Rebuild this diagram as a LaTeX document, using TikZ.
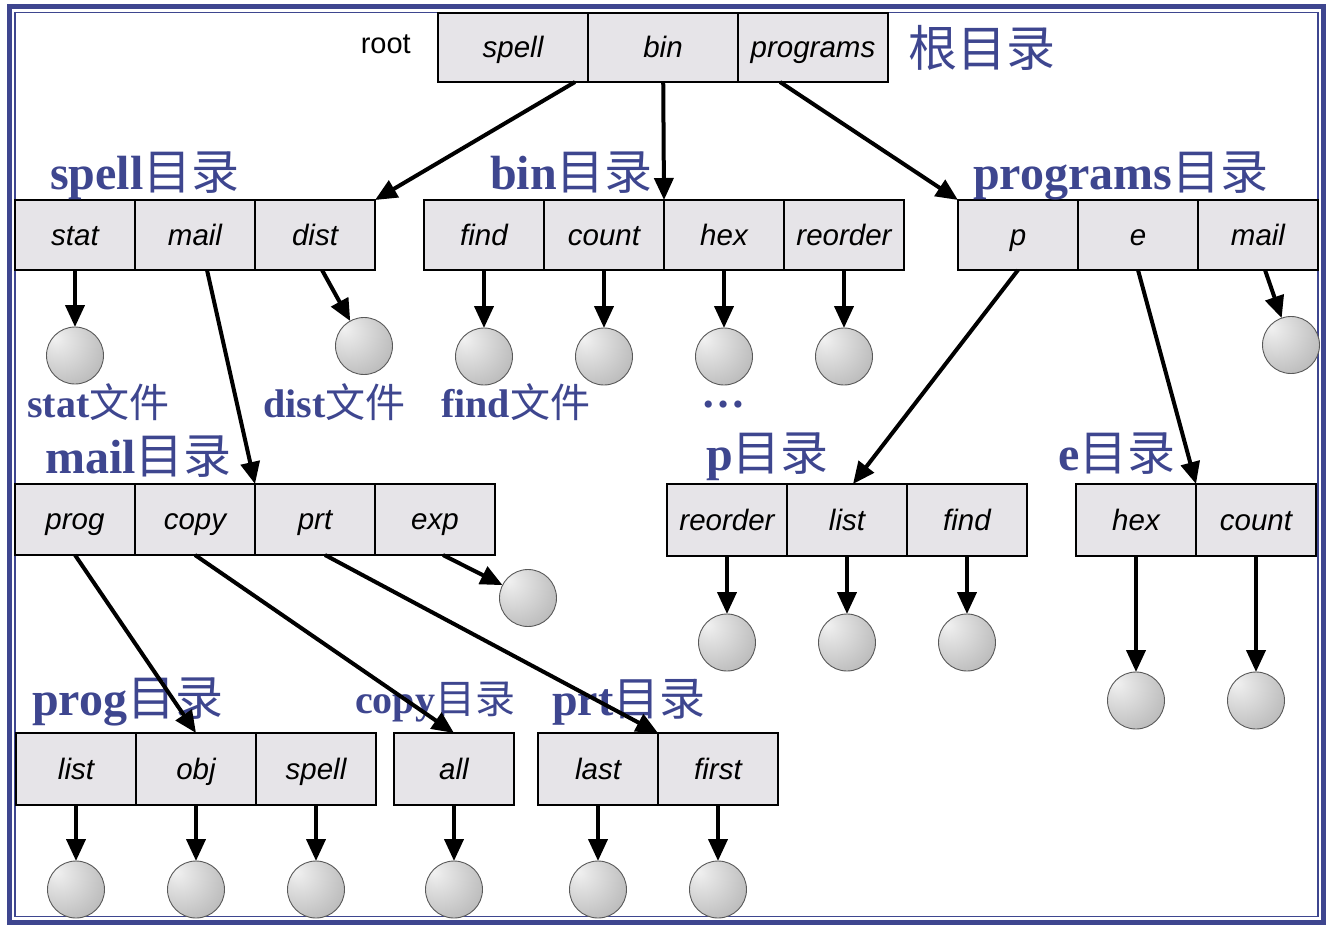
\documentclass[tikz,border=0pt]{standalone}
\usepackage{fontspec}
\setmainfont{Liberation Serif}
\setsansfont{Liberation Sans}
\newfontfamily\cjk{Noto Sans CJK SC}
\usetikzlibrary{arrows.meta,positioning}
\definecolor{navy}{RGB}{62,70,143}
\definecolor{cellgray}{RGB}{230,228,232}
\pgfdeclareradialshading{sphere}{\pgfpoint{-18bp}{16bp}}{%
  color(0bp)=(black!5); color(8bp)=(black!10); color(35bp)=(black!25);
  color(70bp)=(black!48); color(80bp)=(black!48)}
\newcommand\zh[1]{{\cjk\mdseries #1}}
\tikzset{
    %Define standard arrow tip
    >={Triangle[length=22pt,width=19pt]},
    %Define style for directory cells
    cell/.style={
           rectangle,
           draw=black, line width=2.5pt,
           fill=cellgray,
           minimum width=120pt,
           minimum height=70pt,
           text height=26pt, text depth=6pt,
           inner sep=0pt, outer sep=0pt,
           font=\sffamily\itshape\fontsize{29.5}{30}\selectfont},
    rootcell/.style={cell, minimum width=150pt, minimum height=69pt},
    % Define arrow style
    pil/.style={
           ->,
           line width=4pt},
    % Define file ball style
    leaf/.style={circle,draw=black!65,line width=0.9pt,shading=sphere,minimum size=57pt,inner sep=0pt,outer sep=0pt},
    % Define label styles
    title/.style={anchor=base west,inner sep=0pt,text=navy,font=\bfseries\fontsize{48}{50}\selectfont},
    small title/.style={title,font=\bfseries\fontsize{40}{42}\selectfont}
}

\begin{document}
\begin{tikzpicture}[x=1pt,y=-1pt]
  \useasboundingbox (0,0) rectangle (1330,927);
  % frame
  \draw[navy,line width=5pt] (9.5,6.5) rectangle (1323.5,922.5);
  \draw[navy,line width=1.5pt] (15,12.5) rectangle (1318,916.5);

  % root directory
  \node[rootcell] (rspell) at (513,47.5) {spell};
  \node[rootcell] (rbin) [right=0pt of rspell] {bin};
  \node[rootcell] (rprog) [right=0pt of rbin] {programs};
  \node[inner sep=0pt,font=\sffamily\fontsize{29}{30}\selectfont] (root) [left=27pt of rspell,yshift=3pt] {root};
  \node[title,font=\fontsize{49}{50}\selectfont] (lroot) at (908,66) {\zh{根目录}};

  % second level
  \node[cell] (stat) at (75,235) {stat};
  \node[cell] (mail) [right=0pt of stat] {mail};
  \node[cell] (dist) [right=0pt of mail] {dist};
  \node[cell] (find) at (484,235) {find};
  \node[cell] (count) [right=0pt of find] {count};
  \node[cell] (hex) [right=0pt of count] {hex};
  \node[cell] (reorder) [right=0pt of hex] {reorder};
  \node[cell] (p) at (1018,235) {p};
  \node[cell] (e) [right=0pt of p] {e};
  \node[cell] (pmail) [right=0pt of e] {mail};
  \node[title] (lspell) at (50,189) {spell\zh{目录}};
  \node[title] (lbin) at (490,189) {bin\zh{目录}};
  \node[title] (lprog) at (973,189) {programs\zh{目录}};

  % files of second level
  \node[leaf] (stat-f) [below=57pt of stat] {};
  \node[leaf] (dist-f) at (364,346) {};
  \node[leaf] (find-f) [below=58pt of find] {};
  \node[leaf] (count-f) [below=58pt of count] {};
  \node[leaf] (hex-f) [below=58pt of hex] {};
  \node[leaf] (reorder-f) [below=58pt of reorder] {};
  \node[leaf] (pmail-f) at (1291,345) {};
  \node[small title] (lstat) at (27,417) {stat\zh{文件}};
  \node[small title] (ldist) at (263,417) {dist\zh{文件}};
  \node[small title] (lfind) at (441,417) {find\zh{文件}};
  \node[text=navy,font=\bfseries\fontsize{44}{44}\selectfont] (dots) at (723,405) {\ldots};

  % third level
  \node[cell,minimum height=71pt] (prog) at (75,519.5) {prog};
  \node[cell,minimum height=71pt] (copy) [right=0pt of prog] {copy};
  \node[cell,minimum height=71pt] (prt) [right=0pt of copy] {prt};
  \node[cell,minimum height=71pt] (exp) [right=0pt of prt] {exp};
  \node[cell,minimum height=72pt] (preorder) at (727,520) {reorder};
  \node[cell,minimum height=72pt] (plist) [right=0pt of preorder] {list};
  \node[cell,minimum height=72pt] (pfind) [right=0pt of plist] {find};
  \node[cell,minimum height=72pt] (ehex) at (1136,520) {hex};
  \node[cell,minimum height=72pt] (ecount) [right=0pt of ehex] {count};
  \node[title] (lmail) at (45,473) {mail\zh{目录}};
  \node[title] (lp) at (706,470) {p\zh{目录}};
  \node[title] (le) at (1058,470) {e\zh{目录}};
  \node[leaf] (exp-f) at (528,598) {};
  \node[leaf] (preorder-f) [below=58pt of preorder] {};
  \node[leaf] (plist-f) [below=58pt of plist] {};
  \node[leaf] (pfind-f) [below=58pt of pfind] {};
  \node[leaf] (ehex-f) [below=116pt of ehex] {};
  \node[leaf] (ecount-f) [below=116pt of ecount] {};

  % fourth level
  \node[cell,minimum height=72pt] (list) at (76,769) {list};
  \node[cell,minimum height=72pt] (obj) [right=0pt of list] {obj};
  \node[cell,minimum height=72pt] (sspell) [right=0pt of obj] {spell};
  \node[cell,minimum height=72pt] (all) at (454,769) {all};
  \node[cell,minimum height=72pt] (last) at (598,769) {last};
  \node[cell,minimum height=72pt] (first) [right=0pt of last] {first};
  \node[title] (lprogd) at (32,715) {prog\zh{目录}};
  \node[small title] (lcopy) at (355,713) {copy\zh{目录}};
  \node[title,font=\bfseries\fontsize{46}{48}\selectfont] (lprt) at (552,715) {prt\zh{目录}};
  \node[leaf] (list-f) [below=56pt of list] {};
  \node[leaf] (obj-f) [below=56pt of obj] {};
  \node[leaf] (sspell-f) [below=56pt of sspell] {};
  \node[leaf] (all-f) [below=56pt of all] {};
  \node[leaf] (last-f) [below=56pt of last] {};
  \node[leaf] (first-f) [below=56pt of first] {};

  \path[pil]
    ([xshift=-13pt]rspell.south east) edge (dist.north east)
    (rbin) edge (count.north east)
    ([xshift=42pt]rprog.south west) edge (p.north west)
    (stat) edge (stat-f)
    ([xshift=12pt]mail.south) edge (prt.north west)
    ([xshift=7pt]dist.south) edge (dist-f)
    (find) edge (find-f)
    (count) edge (count-f)
    (hex) edge (hex-f)
    (reorder) edge (reorder-f)
    (p.south) edge ([xshift=6pt]plist.north)
    (e.south) edge (ehex.north east)
    ([xshift=7pt]pmail.south) edge (pmail-f)
    (prog.south) edge (obj.north)
    (copy.south) edge (all.north)
    ([xshift=10pt]prt.south) edge (last.north east)
    ([xshift=8pt]exp.south) edge (exp-f)
    (preorder) edge (preorder-f)
    (plist) edge (plist-f)
    (pfind) edge (pfind-f)
    (ehex) edge (ehex-f)
    (ecount) edge (ecount-f)
    (list) edge (list-f)
    (obj) edge (obj-f)
    (sspell) edge (sspell-f)
    (all) edge (all-f)
    (last) edge (last-f)
    (first) edge (first-f);
\end{tikzpicture}
\end{document}
